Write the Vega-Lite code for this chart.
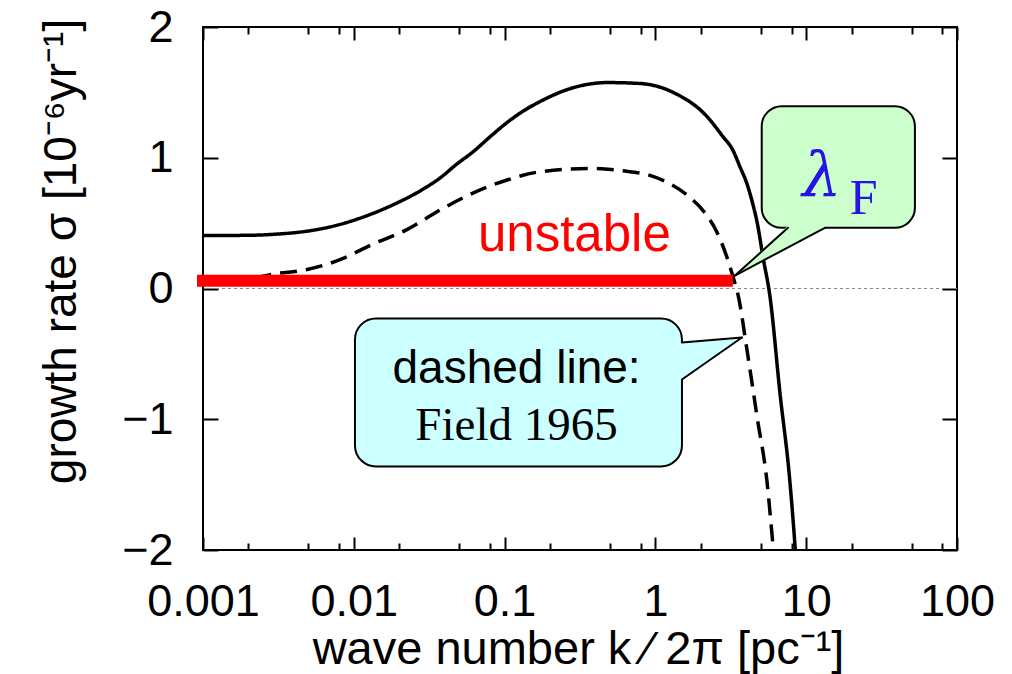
{
  "$schema": "https://vega.github.io/schema/vega-lite/v6.json",
  "width": 754,
  "height": 523,
  "autosize": "none",
  "padding": {"left": 203, "top": 27, "right": 55, "bottom": 124},
  "background": "white",
  "config": {
    "view": {"stroke": "black", "strokeWidth": 2},
    "axis": {
      "domain": false, "grid": false, "tickColor": "black", "tickWidth": 2,
      "labelColor": "black", "labelFont": "Liberation Sans", "labelFontSize": 45,
      "titleFont": "Liberation Sans", "titleFontWeight": "normal", "titleColor": "black",
      "labelFlush": false, "labelOverlap": false
    }
  },
  "resolve": {"axis": {"x": "independent", "y": "independent"}},
  "layer": [
    {
      "data": {"values": [{"sigma": 0}]},
      "mark": {"type": "rule", "color": "#888888", "strokeWidth": 1, "strokeDash": [3, 3]},
      "encoding": {
        "y": {"field": "sigma", "type": "quantitative", "scale": {"domain": [-2, 2], "nice": false}, "axis": null}
      }
    },
    {
      "data": {"values": [
        {"series": "present", "k": 0.001, "sigma": 0.405},
        {"series": "present", "k": 0.002, "sigma": 0.407},
        {"series": "present", "k": 0.003, "sigma": 0.415},
        {"series": "present", "k": 0.005, "sigma": 0.44},
        {"series": "present", "k": 0.0075, "sigma": 0.48},
        {"series": "present", "k": 0.0105, "sigma": 0.53},
        {"series": "present", "k": 0.0174, "sigma": 0.63},
        {"series": "present", "k": 0.0288, "sigma": 0.76},
        {"series": "present", "k": 0.0373, "sigma": 0.845},
        {"series": "present", "k": 0.048, "sigma": 0.95},
        {"series": "present", "k": 0.0617, "sigma": 1.045},
        {"series": "present", "k": 0.08, "sigma": 1.16},
        {"series": "present", "k": 0.104, "sigma": 1.27},
        {"series": "present", "k": 0.132, "sigma": 1.355},
        {"series": "present", "k": 0.172, "sigma": 1.43},
        {"series": "present", "k": 0.284, "sigma": 1.535},
        {"series": "present", "k": 0.477, "sigma": 1.575},
        {"series": "present", "k": 0.79, "sigma": 1.568},
        {"series": "present", "k": 1.31, "sigma": 1.5},
        {"series": "present", "k": 2.2, "sigma": 1.315},
        {"series": "present", "k": 2.81, "sigma": 1.16},
        {"series": "present", "k": 3.24, "sigma": 1.065},
        {"series": "present", "k": 3.64, "sigma": 0.93},
        {"series": "present", "k": 4.05, "sigma": 0.8},
        {"series": "present", "k": 4.44, "sigma": 0.64},
        {"series": "present", "k": 4.72, "sigma": 0.51},
        {"series": "present", "k": 5.17, "sigma": 0.24},
        {"series": "present", "k": 5.75, "sigma": -0.06},
        {"series": "present", "k": 6.7, "sigma": -0.8},
        {"series": "present", "k": 7.8, "sigma": -1.48},
        {"series": "present", "k": 8.43, "sigma": -1.97},
        {"series": "present", "k": 8.7, "sigma": -2.2},
        {"series": "Field 1965", "k": 0.001, "sigma": 0.03},
        {"series": "Field 1965", "k": 0.002, "sigma": 0.07},
        {"series": "Field 1965", "k": 0.0029, "sigma": 0.11},
        {"series": "Field 1965", "k": 0.0049, "sigma": 0.145},
        {"series": "Field 1965", "k": 0.0081, "sigma": 0.22},
        {"series": "Field 1965", "k": 0.0134, "sigma": 0.34},
        {"series": "Field 1965", "k": 0.0225, "sigma": 0.45},
        {"series": "Field 1965", "k": 0.0373, "sigma": 0.6},
        {"series": "Field 1965", "k": 0.0617, "sigma": 0.73},
        {"series": "Field 1965", "k": 0.104, "sigma": 0.83},
        {"series": "Field 1965", "k": 0.172, "sigma": 0.893},
        {"series": "Field 1965", "k": 0.368, "sigma": 0.918},
        {"series": "Field 1965", "k": 0.61, "sigma": 0.9},
        {"series": "Field 1965", "k": 0.92, "sigma": 0.865},
        {"series": "Field 1965", "k": 1.25, "sigma": 0.8},
        {"series": "Field 1965", "k": 1.68, "sigma": 0.7},
        {"series": "Field 1965", "k": 2.09, "sigma": 0.59},
        {"series": "Field 1965", "k": 2.56, "sigma": 0.43},
        {"series": "Field 1965", "k": 2.97, "sigma": 0.245},
        {"series": "Field 1965", "k": 3.27, "sigma": 0.09},
        {"series": "Field 1965", "k": 3.55, "sigma": -0.06},
        {"series": "Field 1965", "k": 4.05, "sigma": -0.47},
        {"series": "Field 1965", "k": 4.72, "sigma": -0.98},
        {"series": "Field 1965", "k": 5.5, "sigma": -1.48},
        {"series": "Field 1965", "k": 6.03, "sigma": -1.97},
        {"series": "Field 1965", "k": 6.3, "sigma": -2.2}
      ]},
      "mark": {"type": "line", "color": "black", "strokeWidth": 3.5, "clip": true, "interpolate": "monotone"},
      "encoding": {
        "x": {"field": "k", "type": "quantitative", "scale": {"type": "log", "domain": [0.001, 100], "nice": false},
          "axis": {"orient": "bottom", "values": [0.001, 0.01, 0.1, 1, 10, 100], "format": "~g",
            "tickSize": -13, "labelPadding": 78, "labelBaseline": "alphabetic",
            "title": "wave number k ⁄ 2π [pc⁻¹]", "titleFontSize": 47, "titleX": 375, "titleY": 113,
            "titleBaseline": "alphabetic", "titleAlign": "center", "titleAnchor": null}},
        "y": {"field": "sigma", "type": "quantitative", "scale": {"domain": [-2, 2], "nice": false},
          "axis": {"orient": "left", "values": [-2, -1, 0, 1, 2], "tickSize": -15, "labelPadding": 45,
            "labelBaseline": "middle",
            "title": "growth rate σ [10⁻⁶yr⁻¹]", "titleFontSize": 46, "titleX": -128, "titleY": 224,
            "titleAngle": -90, "titleBaseline": "alphabetic", "titleAlign": "center"}},
        "strokeDash": {"field": "series", "type": "nominal",
          "scale": {"domain": ["present", "Field 1965"], "range": [[1, 0], [17, 9]]}, "legend": null}
      }
    },
    {
      "data": {"values": [{"k": 0.001, "k2": 2.98, "sigma": 0.06}]},
      "mark": {"type": "rule", "color": "#ff0000", "strokeWidth": 12, "strokeCap": "square"},
      "encoding": {
        "x": {"field": "k", "type": "quantitative", "scale": {"type": "log", "domain": [0.001, 100], "nice": false},
          "axis": {"orient": "top", "values": [0.001, 0.01, 0.1, 1, 10, 100], "labels": false, "tickSize": -13, "title": null}},
        "x2": {"field": "k2"},
        "y": {"field": "sigma", "type": "quantitative", "scale": {"domain": [-2, 2], "nice": false},
          "axis": {"orient": "right", "values": [-2, -1, 0, 1, 2], "labels": false, "tickSize": -15, "title": null}}
      }
    },
    {
      "data": {"values": [{"k": 0.29, "sigma": 0.283, "label": "unstable"}]},
      "mark": {"type": "text", "color": "#ff0000", "font": "Liberation Sans", "fontSize": 51, "align": "center", "baseline": "alphabetic"},
      "encoding": {
        "x": {"field": "k", "type": "quantitative", "scale": {"type": "log", "domain": [0.001, 100], "nice": false}, "axis": null},
        "y": {"field": "sigma", "type": "quantitative", "scale": {"domain": [-2, 2], "nice": false}, "axis": null},
        "text": {"field": "label"}
      }
    },
    {
      "data": {"values": [{"k": 5.07, "k2": 52.6, "sigma": 1.394, "sigma2": 0.464}]},
      "mark": {"type": "rect", "fill": "#ccffcc", "stroke": "black", "strokeWidth": 2, "cornerRadius": 20},
      "encoding": {
        "x": {"field": "k", "type": "quantitative", "scale": {"type": "log", "domain": [0.001, 100], "nice": false},
          "axis": {"orient": "bottom", "values": [0.002, 0.005, 0.008, 0.02, 0.05, 0.08, 0.2, 0.5, 0.8, 2, 5, 8, 20, 50, 80], "labels": false, "tickSize": -7, "title": null}},
        "x2": {"field": "k2"},
        "y": {"field": "sigma", "type": "quantitative", "scale": {"domain": [-2, 2], "nice": false}, "axis": null},
        "y2": {"field": "sigma2"}
      }
    },
    {
      "data": {"values": [
        {"k": 3.37, "top": 0.099, "bottom": 0.099},
        {"k": 7.57, "top": 0.482, "bottom": 0.316},
        {"k": 13.3, "top": 0.482, "bottom": 0.467}
      ]},
      "mark": {"type": "area", "fill": "#ccffcc", "opacity": 1},
      "encoding": {
        "x": {"field": "k", "type": "quantitative", "scale": {"type": "log", "domain": [0.001, 100], "nice": false}, "axis": null},
        "y": {"field": "top", "type": "quantitative", "scale": {"domain": [-2, 2], "nice": false}, "axis": null},
        "y2": {"field": "bottom"}
      }
    },
    {
      "data": {"values": [
        {"k": 3.37, "sigma": 0.099, "k2": 7.57, "sigma2": 0.464},
        {"k": 3.37, "sigma": 0.099, "k2": 13.3, "sigma2": 0.464}
      ]},
      "mark": {"type": "rule", "color": "black", "strokeWidth": 2, "strokeCap": "round"},
      "encoding": {
        "x": {"field": "k", "type": "quantitative", "scale": {"type": "log", "domain": [0.001, 100], "nice": false}, "axis": null},
        "x2": {"field": "k2"},
        "y": {"field": "sigma", "type": "quantitative", "scale": {"domain": [-2, 2], "nice": false}, "axis": null},
        "y2": {"field": "sigma2"}
      }
    },
    {
      "data": {"values": [{"k": 0.01018, "k2": 1.5, "sigma": -0.229, "sigma2": -1.361}]},
      "mark": {"type": "rect", "fill": "#ccffff", "stroke": "black", "strokeWidth": 2, "cornerRadius": 21},
      "encoding": {
        "x": {"field": "k", "type": "quantitative", "scale": {"type": "log", "domain": [0.001, 100], "nice": false},
          "axis": {"orient": "top", "values": [0.002, 0.005, 0.008, 0.02, 0.05, 0.08, 0.2, 0.5, 0.8, 2, 5, 8, 20, 50, 80], "labels": false, "tickSize": -7, "title": null}},
        "x2": {"field": "k2"},
        "y": {"field": "sigma", "type": "quantitative", "scale": {"domain": [-2, 2], "nice": false}, "axis": null},
        "y2": {"field": "sigma2"}
      }
    },
    {
      "data": {"values": [
        {"k": 1.37, "top": -0.417, "bottom": -0.728},
        {"k": 3.75, "top": -0.375, "bottom": -0.375}
      ]},
      "mark": {"type": "area", "fill": "#ccffff", "opacity": 1},
      "encoding": {
        "x": {"field": "k", "type": "quantitative", "scale": {"type": "log", "domain": [0.001, 100], "nice": false}, "axis": null},
        "y": {"field": "top", "type": "quantitative", "scale": {"domain": [-2, 2], "nice": false}, "axis": null},
        "y2": {"field": "bottom"}
      }
    },
    {
      "data": {"values": [
        {"k": 1.5, "sigma": -0.413, "k2": 3.75, "sigma2": -0.375},
        {"k": 1.5, "sigma": -0.696, "k2": 3.75, "sigma2": -0.375}
      ]},
      "mark": {"type": "rule", "color": "black", "strokeWidth": 2, "strokeCap": "round"},
      "encoding": {
        "x": {"field": "k", "type": "quantitative", "scale": {"type": "log", "domain": [0.001, 100], "nice": false}, "axis": null},
        "x2": {"field": "k2"},
        "y": {"field": "sigma", "type": "quantitative", "scale": {"domain": [-2, 2], "nice": false}, "axis": null},
        "y2": {"field": "sigma2"}
      }
    },
    {
      "data": {"values": [{"k": 12.7, "sigma": 0.704, "label": "λ"}]},
      "mark": {"type": "text", "color": "#2614e6", "font": "DejaVu Serif", "fontStyle": "italic", "fontSize": 62, "align": "center", "baseline": "alphabetic"},
      "encoding": {
        "x": {"field": "k", "type": "quantitative", "scale": {"type": "log", "domain": [0.001, 100], "nice": false}, "axis": null},
        "y": {"field": "sigma", "type": "quantitative", "scale": {"domain": [-2, 2], "nice": false}, "axis": null},
        "text": {"field": "label"}
      }
    },
    {
      "data": {"values": [{"k": 24, "sigma": 0.566, "label": "F"}]},
      "mark": {"type": "text", "color": "#2614e6", "font": "Liberation Serif", "fontSize": 50, "align": "center", "baseline": "alphabetic"},
      "encoding": {
        "x": {"field": "k", "type": "quantitative", "scale": {"type": "log", "domain": [0.001, 100], "nice": false}, "axis": null},
        "y": {"field": "sigma", "type": "quantitative", "scale": {"domain": [-2, 2], "nice": false}, "axis": null},
        "text": {"field": "label"}
      }
    },
    {
      "data": {"values": [{"k": 0.12, "sigma": -0.719, "label": "dashed line:"}]},
      "mark": {"type": "text", "color": "black", "font": "Liberation Sans", "fontSize": 46, "align": "center", "baseline": "alphabetic"},
      "encoding": {
        "x": {"field": "k", "type": "quantitative", "scale": {"type": "log", "domain": [0.001, 100], "nice": false}, "axis": null},
        "y": {"field": "sigma", "type": "quantitative", "scale": {"domain": [-2, 2], "nice": false}, "axis": null},
        "text": {"field": "label"}
      }
    },
    {
      "data": {"values": [{"k": 0.12, "sigma": -1.155, "label": "Field 1965"}]},
      "mark": {"type": "text", "color": "black", "font": "Liberation Serif", "fontSize": 47, "align": "center", "baseline": "alphabetic"},
      "encoding": {
        "x": {"field": "k", "type": "quantitative", "scale": {"type": "log", "domain": [0.001, 100], "nice": false}, "axis": null},
        "y": {"field": "sigma", "type": "quantitative", "scale": {"domain": [-2, 2], "nice": false}, "axis": null},
        "text": {"field": "label"}
      }
    }
  ]
}
